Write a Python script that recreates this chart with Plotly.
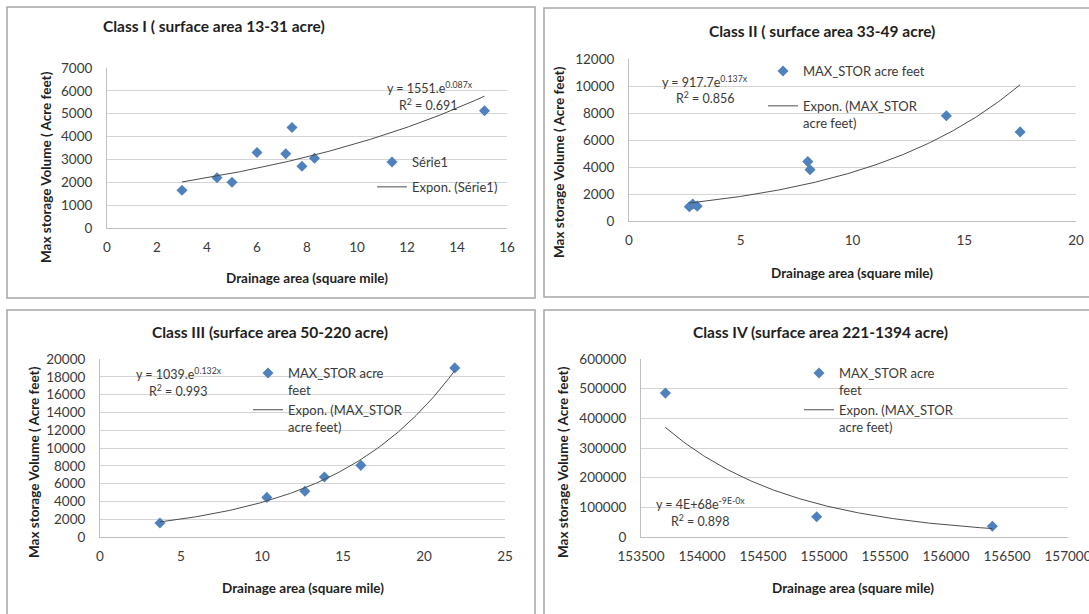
import numpy as np
import plotly.graph_objects as go

W, H = 1089, 614

# ---------------- data ----------------
c1_x = [3.0, 4.4, 5.0, 6.0, 7.15, 7.4, 7.8, 8.3, 15.1]
c1_y = [1650, 2200, 2000, 3300, 3250, 4400, 2700, 3050, 5130]

c2_x = [2.7, 2.85, 3.05, 8.0, 8.1, 14.2, 17.5]
c2_y = [1050, 1250, 1100, 4400, 3800, 7800, 6600]

c3_x = [3.7, 10.3, 12.65, 13.85, 16.1, 21.9]
c3_y = [1570, 4450, 5130, 6750, 8050, 19000]

c4_x = [153700, 154940, 156380]
c4_y = [485000, 68000, 36000]

# displayed exponential trend coefficients (classes I-III); class IV is refit
trend_a = [1551, 917.7, 1039]
trend_b = [0.087, 0.137, 0.132]

titles = ["Class I ( surface area 13-31 acre)",
          "Class II ( surface area 33-49 acre)",
          "Class III (surface area 50-220 acre)",
          "Class IV (surface area 221-1394 acre)"]
eq_text = ["y = 1551.e<sup>0.087x</sup>", "y = 917.7e<sup>0.137x</sup>",
           "y = 1039.e<sup>0.132x</sup>", "y = 4E+68e<sup>-9E-0x</sup>"]
r2_text = ["R<sup>2</sup> = 0.691", "R<sup>2</sup> = 0.856",
           "R<sup>2</sup> = 0.993", "R<sup>2</sup> = 0.898"]
series_names = ["Série1", "MAX_STOR acre feet",
                "MAX_STOR acre<br>feet", "MAX_STOR acre<br>feet"]
trend_names = ["Expon. (Série1)", "Expon. (MAX_STOR<br>acre feet)",
               "Expon. (MAX_STOR<br>acre feet)", "Expon. (MAX_STOR<br>acre feet)"]
x_title = "Drainage area (square mile)"
y_title = "Max storage Volume ( Acre feet)"

x_ranges = [[0, 16], [0, 20], [0, 25], [153500, 157000]]
x_dticks = [2, 5, 5, 500]
y_ranges = [[0, 7000], [0, 12000], [0, 20000], [0, 600000]]
y_dticks = [1000, 2000, 2000, 100000]

# ---------------- layout geometry (pixels) ----------------
plot_px = [  # x0, x1, ytop, ybottom
    (107, 507, 68, 228),
    (629, 1076, 59, 221),
    (100, 505, 359, 537),
    (641, 1068, 359, 537),
]
boxes = [(7, 7, 535, 298), (544, 8, 1095, 297), (7, 310, 535, 620), (544, 310, 1095, 620)]
title_pos = [(214, 26), (822, 31), (270, 332), (820, 332)]
xt_pos = [(307, 278), (852, 273), (303, 588), (853, 588)]
yt_pos = [(46, 167), (559, 162), (34, 462), (563, 462)]
eq_pos = [(430, 87), (705, 81), (179, 373), (700, 503)]
r2_pos = [(428, 105), (705, 98), (178, 391), (700, 520)]
leg_pos = [(372, 147), (763, 56), (248, 358), (799, 358)]
leg_gap = [5, 15, 0, 0]

FONT = "Lato"
TXT = "#1f1f1f"
TICK = "#3a3a3a"
BLUE = "#4F81BD"


def px(x):
    return x / W


def py(y):
    return 1 - y / H


fig = go.Figure()
xs = [c1_x, c2_x, c3_x, c4_x]
ys = [c1_y, c2_y, c3_y, c4_y]

annotations = []
shapes = []
for i in range(4):
    sfx = "" if i == 0 else str(i + 1)
    lg = "legend" if i == 0 else "legend" + str(i + 1)
    x = np.array(xs[i], dtype=float)
    y = np.array(ys[i], dtype=float)
    xt = np.linspace(x.min(), x.max(), 200)
    if i < 3:
        yt = trend_a[i] * np.exp(trend_b[i] * xt)
    else:
        coef = np.polyfit(x, np.log(y), 1)
        yt = np.exp(np.polyval(coef, xt))

    fig.add_trace(go.Scatter(
        x=x, y=y, mode="markers", name=series_names[i],
        marker=dict(symbol="diamond", size=8.5, color=BLUE),
        xaxis="x" + sfx, yaxis="y" + sfx, legend=lg,
        legendgroup="s%d" % i))
    fig.add_trace(go.Scatter(
        x=xt, y=yt, mode="lines", name=trend_names[i],
        line=dict(color="#4d4d4d", width=1),
        xaxis="x" + sfx, yaxis="y" + sfx, legend=lg,
        legendgroup="t%d" % i))

    x0, x1, yt0, yb0 = plot_px[i]
    fig.layout["xaxis" + sfx] = dict(
        domain=[px(x0), px(x1)], anchor="y" + sfx, range=x_ranges[i],
        dtick=x_dticks[i], tick0=x_ranges[i][0], showgrid=False, zeroline=False,
        showline=True, linecolor="#bfbfbf", linewidth=1, ticks="",
        tickformat="d", ticklabelstandoff=7, automargin=False,
        ticklabeloverflow="allow",
        tickfont=dict(family=FONT, size=13.5, color=TICK))
    fig.layout["yaxis" + sfx] = dict(
        domain=[py(yb0), py(yt0)], anchor="x" + sfx, range=y_ranges[i],
        dtick=y_dticks[i], tick0=0, showgrid=True, gridcolor="#d4d4d4",
        gridwidth=1, zeroline=False, showline=True, linecolor="#bfbfbf",
        linewidth=1, ticks="", tickformat="d", ticklabelstandoff=11,
        automargin=False, ticklabeloverflow="allow",
        tickfont=dict(family=FONT, size=13.5, color=TICK))

    lx, ly = leg_pos[i]
    fig.layout[lg] = dict(
        x=px(lx), y=py(ly), xanchor="left", yanchor="top",
        bgcolor="rgba(0,0,0,0)", borderwidth=0, valign="top",
        tracegroupgap=leg_gap[i], itemclick=False,
        font=dict(family=FONT, size=13, color=TICK))

    bx0, by0, bx1, by1 = boxes[i]
    shapes.append(dict(type="rect", xref="paper", yref="paper",
                       x0=px(bx0), x1=px(bx1), y0=py(by1), y1=py(by0),
                       line=dict(color="#a6a6a6", width=1.5)))

    tx, ty = title_pos[i]
    annotations.append(dict(text="<b>%s</b>" % titles[i], x=px(tx), y=py(ty),
                            xref="paper", yref="paper", showarrow=False,
                            xanchor="center", yanchor="middle",
                            font=dict(family=FONT, size=15.5, color=TXT)))
    tx, ty = xt_pos[i]
    annotations.append(dict(text="<b>%s</b>" % x_title, x=px(tx), y=py(ty),
                            xref="paper", yref="paper", showarrow=False,
                            xanchor="center", yanchor="middle",
                            font=dict(family=FONT, size=13.5, color=TXT)))
    tx, ty = yt_pos[i]
    annotations.append(dict(text="<b>%s</b>" % y_title, x=px(tx), y=py(ty),
                            xref="paper", yref="paper", showarrow=False,
                            xanchor="center", yanchor="middle", textangle=-90,
                            font=dict(family=FONT, size=13.5, color=TXT)))
    tx, ty = eq_pos[i]
    annotations.append(dict(text=eq_text[i], x=px(tx), y=py(ty),
                            xref="paper", yref="paper", showarrow=False,
                            xanchor="center", yanchor="middle",
                            font=dict(family=FONT, size=12.5, color=TICK)))
    tx, ty = r2_pos[i]
    annotations.append(dict(text=r2_text[i], x=px(tx), y=py(ty),
                            xref="paper", yref="paper", showarrow=False,
                            xanchor="center", yanchor="middle",
                            font=dict(family=FONT, size=12.5, color=TICK)))

fig.update_layout(
    width=W, height=H, autosize=False,
    margin=dict(l=0, r=0, t=0, b=0, autoexpand=False),
    paper_bgcolor="white", plot_bgcolor="white",
    showlegend=True, annotations=annotations, shapes=shapes,
    font=dict(family=FONT, color=TICK),
)

fig.write_html("out.html", config={"displayModeBar": False},
               post_script="document.body.style.margin='0';")
